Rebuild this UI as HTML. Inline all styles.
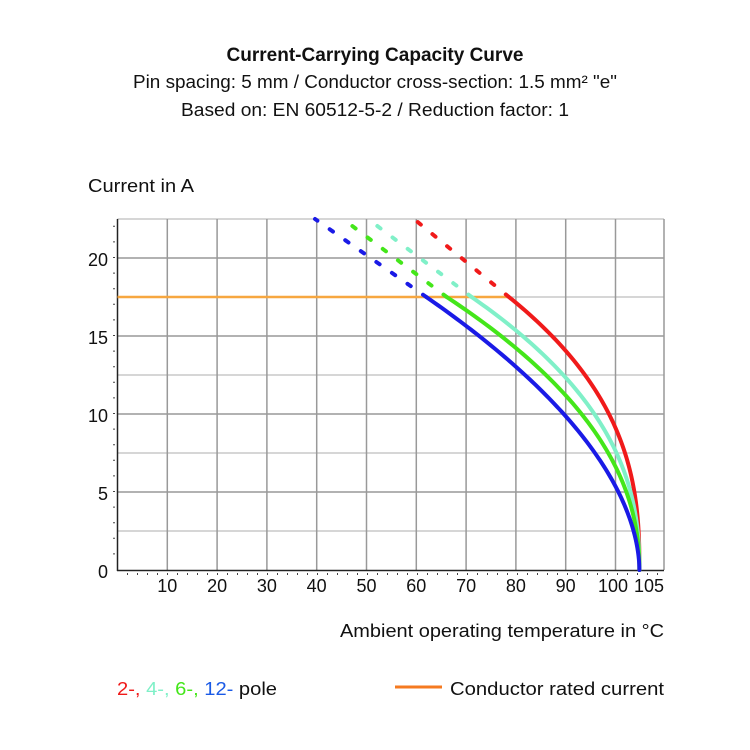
<!DOCTYPE html>
<html><head><meta charset="utf-8"><style>
html,body{margin:0;padding:0;background:#fff}
svg{display:block}
text{font-family:"Liberation Sans Narrow","Liberation Sans",sans-serif;fill:#111}
</style></head><body>
<svg width="750" height="750" viewBox="0 0 750 750" xmlns="http://www.w3.org/2000/svg">
<text x="375" y="61" text-anchor="middle" font-size="19" font-weight="bold" textLength="297" lengthAdjust="spacingAndGlyphs">Current-Carrying Capacity Curve</text>
<text x="375" y="88" text-anchor="middle" font-size="18" textLength="484" lengthAdjust="spacingAndGlyphs">Pin spacing: 5 mm / Conductor cross-section: 1.5 mm² "e"</text>
<text x="375" y="116" text-anchor="middle" font-size="18" textLength="388" lengthAdjust="spacingAndGlyphs">Based on: EN 60512-5-2 / Reduction factor: 1</text>
<text x="88" y="192" font-size="18" textLength="106" lengthAdjust="spacingAndGlyphs">Current in A</text>

<g stroke="#c8c8c8" stroke-width="1.5">
<line x1="117.5" y1="531" x2="664" y2="531"/><line x1="117.5" y1="453" x2="664" y2="453"/>
<line x1="117.5" y1="375" x2="664" y2="375"/><line x1="117.5" y1="297" x2="664" y2="297"/>
<line x1="117.5" y1="219" x2="664" y2="219"/>
</g>
<g stroke="#999" stroke-width="1.5">
<line x1="117.5" y1="492" x2="664" y2="492"/><line x1="117.5" y1="414" x2="664" y2="414"/>
<line x1="117.5" y1="336" x2="664" y2="336"/><line x1="117.5" y1="258" x2="664" y2="258"/>
<line x1="167.3" y1="219" x2="167.3" y2="570"/><line x1="217.1" y1="219" x2="217.1" y2="570"/>
<line x1="266.9" y1="219" x2="266.9" y2="570"/><line x1="316.7" y1="219" x2="316.7" y2="570"/>
<line x1="366.5" y1="219" x2="366.5" y2="570"/><line x1="416.3" y1="219" x2="416.3" y2="570"/>
<line x1="466.1" y1="219" x2="466.1" y2="570"/><line x1="515.9" y1="219" x2="515.9" y2="570"/>
<line x1="565.7" y1="219" x2="565.7" y2="570"/><line x1="615.5" y1="219" x2="615.5" y2="570"/>
<line x1="664" y1="219" x2="664" y2="570"/>
</g>
<g stroke="#222" stroke-width="1.5">
<line x1="117.5" y1="219" x2="117.5" y2="571"/>
<line x1="117" y1="570.5" x2="664" y2="570.5"/>
</g>
<g stroke="#444" stroke-width="2" stroke-dasharray="1 14.6" fill="none">
<line x1="114" y1="554.4" x2="114" y2="219"/>
</g>
<g stroke="#444" stroke-width="2" stroke-dasharray="1 9" fill="none">
<line x1="127" y1="574" x2="664" y2="574"/>
</g>

<g font-size="18" text-anchor="end">
<text x="108" y="578">0</text><text x="108" y="500">5</text><text x="108" y="422">10</text>
<text x="108" y="344">15</text><text x="108" y="266">20</text>
</g>
<g font-size="18" text-anchor="middle">
<text x="167.3" y="592">10</text><text x="217.1" y="592">20</text><text x="266.9" y="592">30</text>
<text x="316.7" y="592">40</text><text x="366.5" y="592">50</text><text x="416.3" y="592">60</text>
<text x="466.1" y="592">70</text><text x="515.9" y="592">80</text><text x="565.7" y="592">90</text>
<text x="613" y="592">100</text><text x="649" y="592">105</text>
</g>
<text x="340" y="637" font-size="18" textLength="324" lengthAdjust="spacingAndGlyphs">Ambient operating temperature in °C</text>

<line x1="117.5" y1="297" x2="510" y2="297" stroke="#f7a740" stroke-width="2.5"/>

<g fill="none" stroke-width="4" stroke-linecap="round" stroke-dasharray="4 15">
<line x1="426.3" y1="297" x2="315" y2="219" stroke="#1a1ae6"/>
<line x1="446.7" y1="297" x2="343" y2="219" stroke="#44e61a"/>
<line x1="471.6" y1="297" x2="368" y2="219" stroke="#80f0c8"/>
<line x1="508.9" y1="297" x2="414" y2="219" stroke="#f01a1a"/>
</g>
<g fill="none" stroke-width="4" stroke-linejoin="round" stroke-linecap="round">
<path id="cr" stroke="#f01a1a"/>
<path id="ca" stroke="#80f0c8"/>
<path id="cg" stroke="#44e61a"/>
<path id="cb" stroke="#1a1ae6"/>
</g>
<script>
function X(t){return 117.5+4.98*t}
function Y(i){return 570-15.6*i}
function mk(id,t0,p){var tm=104.8,d=tm-t0,s="";
for(var k=0;k<=100;k++){var i=17.5*(1-k/100);var t=tm-d*Math.pow(i/17.5,p);
s+=(k?"L":"M")+X(t).toFixed(2)+","+Y(i).toFixed(2);}
document.getElementById(id).setAttribute("d",s);}
mk("cr",78.6,2.6);mk("ca",71.1,2.35);mk("cg",66.1,2.15);mk("cb",62,1.85);
</script>

<text x="117" y="695" font-size="18" textLength="160" lengthAdjust="spacingAndGlyphs"><tspan style="fill:#f01a1a">2-, </tspan><tspan style="fill:#80f0c8">4-, </tspan><tspan style="fill:#44e61a">6-, </tspan><tspan style="fill:#1a5ae6">12- </tspan>pole</text>
<line x1="395" y1="687" x2="442" y2="687" stroke="#f57a20" stroke-width="3"/>
<text x="450" y="695" font-size="18" textLength="214" lengthAdjust="spacingAndGlyphs">Conductor rated current</text>
</svg>
</body></html>
